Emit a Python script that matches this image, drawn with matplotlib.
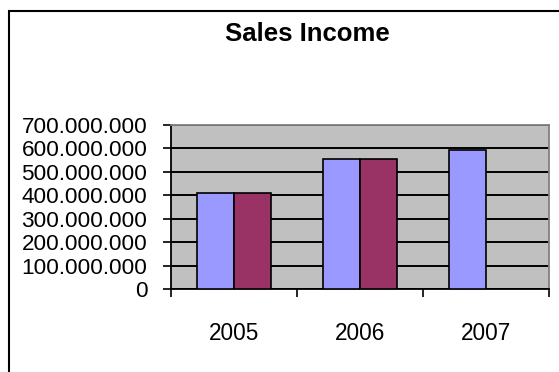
import numpy as np
import matplotlib
matplotlib.use("Agg")
import matplotlib.pyplot as plt
from matplotlib.patches import Rectangle
from matplotlib.ticker import FuncFormatter

# data
years = ["2005", "2006", "2007"]
series_a = [408000000, 553000000, 593000000]
series_b = [408000000, 553000000, np.nan]
yticks = [0, 100000000, 200000000, 300000000, 400000000, 500000000, 600000000, 700000000]

plt.rcParams['font.family'] = ['Liberation Sans', 'DejaVu Sans']

fig = plt.figure(figsize=(5.59, 3.72), dpi=100)
ax = fig.add_axes([171 / 559, 1 - 289 / 372, 378 / 559, 164 / 372])

# chart area border (cut off at right / bottom)
fig.patches.append(Rectangle((9 / 559, -0.1), 1.2, 1 - 11 / 372 + 0.1, transform=fig.transFigure,
                             fill=False, edgecolor='black', linewidth=1.5))

x = np.arange(len(years))
w = 0.294
ax.set_facecolor('#C0C0C0')
ax.bar(x - w / 2, series_a, w, color='#9999FF', edgecolor='black', linewidth=1.2, zorder=3)
ax.bar(x + w / 2, series_b, w, color='#993366', edgecolor='black', linewidth=1.2, zorder=3)

ax.set_xlim(-0.5, 2.5)
ax.set_ylim(0, 700000000)
ax.set_yticks(yticks)
ax.yaxis.set_major_formatter(FuncFormatter(lambda v, p: format(int(v), ',').replace(',', '.')))
ax.grid(axis='y', color='black', linewidth=1.4, zorder=1)
ax.set_axisbelow(True)

ax.set_xticks(x)
ax.set_xticklabels(years)
ax.set_xticks([-0.5, 0.5, 1.5, 2.5], minor=True)
ax.tick_params(axis='x', which='major', length=0, pad=24, labelsize=16.3)
ax.tick_params(axis='x', which='minor', length=6, width=1.2, direction='out')
ax.tick_params(axis='y', length=6, width=1.2, direction='out', pad=11, labelsize=16.2)

for s in ['top', 'right']:
    ax.spines[s].set_color('#808080')
    ax.spines[s].set_linewidth(1.3)
for s in ['left', 'bottom']:
    ax.spines[s].set_color('black')
    ax.spines[s].set_linewidth(1.3)

fig.text(307 / 559, 1 - 34 / 372, "Sales Income", ha='center', va='center',
         fontsize=18.5, fontweight='bold')

fig.savefig("out.png", dpi=100)
